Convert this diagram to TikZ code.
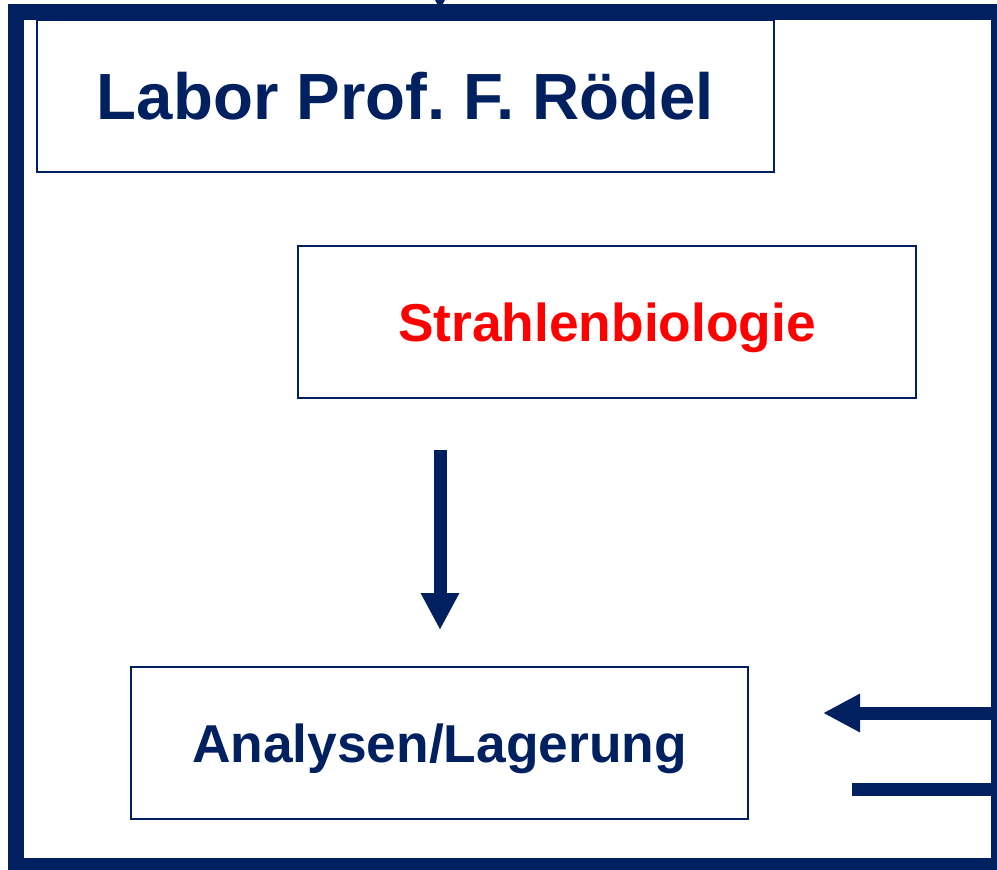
\documentclass[tikz,border=0pt]{standalone}
\usepackage{fontspec}
\setmainfont{Liberation Sans}
\usepackage{xcolor}
\definecolor{cnavy}{HTML}{002060}
\definecolor{cred}{HTML}{FF0000}
\usetikzlibrary{arrows.meta, positioning}
\frenchspacing
\tikzset{
Box/.style={
	draw=cnavy, rectangle,
	line width=1.5pt,
	inner sep=0pt,
	minimum height=114pt,
	align=center,
	text=cnavy,
	font=\bfseries\fontsize{40}{48}\selectfont,
	text height=28.6pt, text depth=0pt
},
TitleBox/.style={
	Box,
	font=\bfseries\fontsize{49}{58}\selectfont,
	text height=35.1pt
},
RedBox/.style={
	Box,
	text=cred
},
Frame/.style={
	draw=cnavy, rectangle,
	line width=12pt,
	inner sep=0pt,
	minimum width=737.25pt,
	minimum height=640.5pt
},
Line/.style={
	draw=cnavy,
	line width=9.75pt
},
Arrow/.style={
	Line,
	-{Triangle[length=27.75pt, width=27pt]}
}
}

\begin{document}
\begin{tikzpicture}[x=0.75pt, y=-0.75pt]
	\clip (0,0) rectangle (997,869);

	\node[TitleBox, minimum width=552.75pt] (labor) at (405.5,96) {Labor Prof. F. Rödel};
	\node[RedBox, minimum width=463.5pt] (strahlen) at (607,322) {Strahlenbiologie};
	\node[Box, minimum width=462.75pt] (analysen) at (439.5,743) {Analysen/Lagerung};

	% arrow coming in from above, mostly hidden by the frame
	\coordinate (topFrom) at (440,-60);
	\coordinate (topTo) at (440,10);
	\draw[Arrow] (topFrom) -- (topTo);

	\node[Frame] (frame) at (507.5,439) {};

	\coordinate (downFrom) at (440,450);
	\coordinate (downTo) at (440,630);
	\draw[Arrow] (downFrom) -- (downTo);

	\coordinate (inTip) at (823,713);
	\coordinate (outEnd) at (852,789);
	\draw[Arrow] (inTip -| frame.east) -- (inTip);
	\draw[Line] (outEnd) -- (outEnd -| frame.east);
\end{tikzpicture}
\end{document}
